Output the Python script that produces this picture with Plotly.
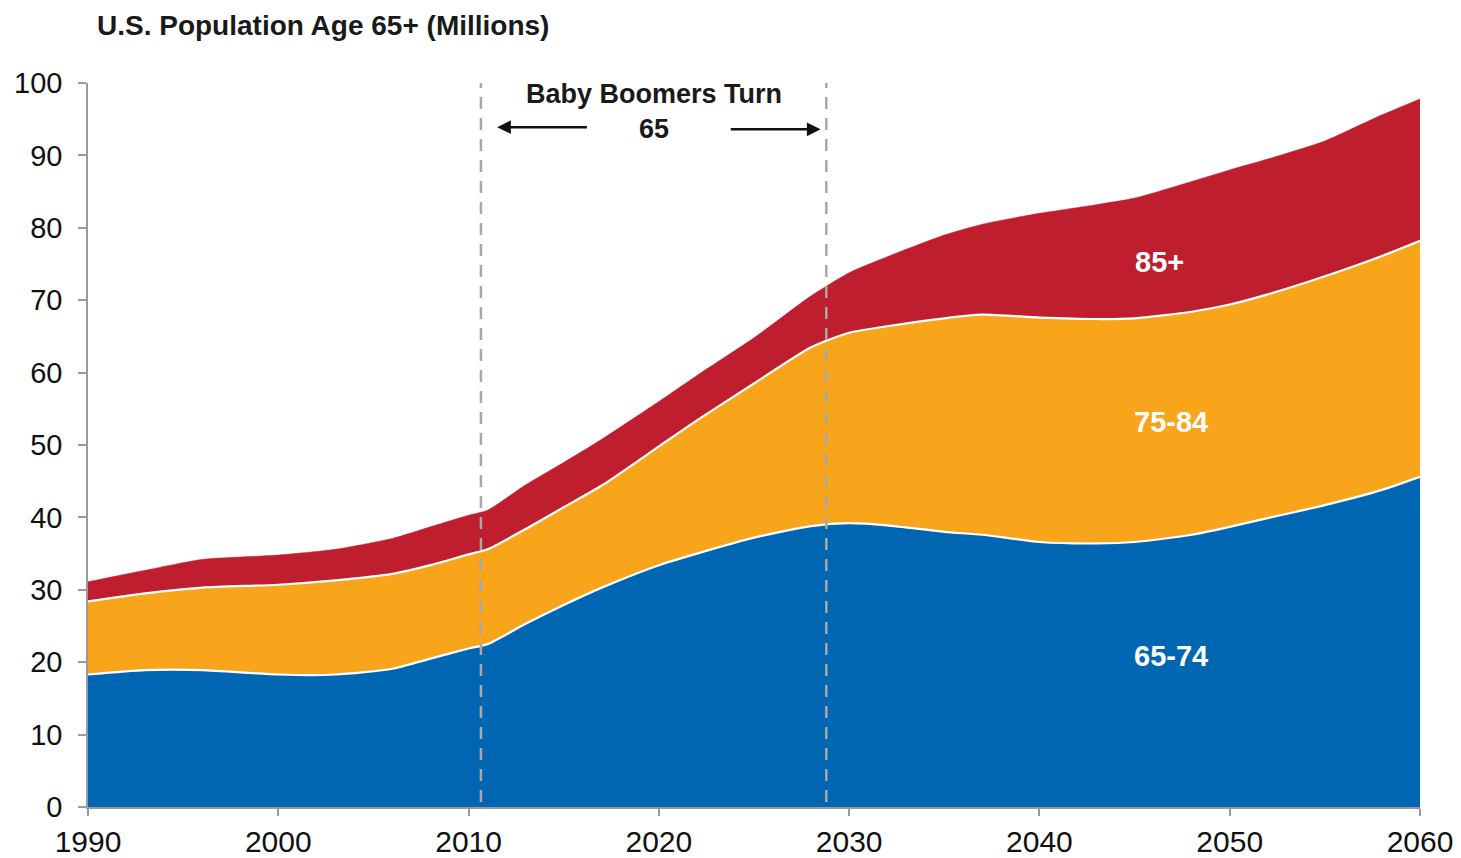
import plotly.graph_objects as go

# ---- data (millions) ----
years = [1990, 1993, 1996, 2000, 2003, 2006, 2008, 2010, 2011, 2013, 2015, 2017,
         2020, 2022, 2025, 2028, 2030, 2032, 2035, 2037, 2040, 2043, 2045, 2048,
         2050, 2052, 2055, 2058, 2060]
age_65_74 = [18.3, 18.9, 18.9, 18.3, 18.3, 19.1, 20.5, 21.9, 22.5, 25.3, 27.9, 30.3,
             33.4, 35.0, 37.2, 38.8, 39.2, 38.9, 38.0, 37.6, 36.6, 36.4, 36.6, 37.6,
             38.7, 39.9, 41.7, 43.8, 45.6]
age_75_84 = [10.1, 10.6, 11.4, 12.4, 13.0, 13.1, 12.9, 13.0, 13.1, 13.1, 13.5, 14.1,
             16.4, 18.4, 21.3, 24.7, 26.3, 27.5, 29.5, 30.4, 31.0, 31.0, 30.9, 30.8,
             30.7, 30.9, 31.6, 32.3, 32.6]
age_85_plus = [2.7, 3.2, 3.9, 4.1, 4.3, 4.9, 5.3, 5.4, 5.4, 6.1, 6.2, 6.4,
               6.2, 6.2, 6.3, 7.1, 8.3, 9.6, 11.5, 12.5, 14.4, 15.8, 16.6, 18.0,
               18.6, 18.7, 18.7, 19.5, 19.6]

x_ticks = [1990, 2000, 2010, 2020, 2030, 2040, 2050, 2060]
y_ticks = [0, 10, 20, 30, 40, 50, 60, 70, 80, 90, 100]
boomer_start = 2010.65
boomer_end = 2028.8

BLUE = "#0066B2"
ORANGE = "#F8A51B"
RED = "#BE1E2D"
FONT = "Liberation Sans"

fig = go.Figure()
fig.add_trace(go.Scatter(x=years, y=age_65_74, stackgroup="one", mode="lines",
                         line=dict(color="white", width=2.2, shape="spline", smoothing=0.6),
                         fillcolor=BLUE, name="65-74"))
fig.add_trace(go.Scatter(x=years, y=age_75_84, stackgroup="one", mode="lines",
                         line=dict(color="white", width=2.2, shape="spline", smoothing=0.6),
                         fillcolor=ORANGE, name="75-84"))
fig.add_trace(go.Scatter(x=years, y=age_85_plus, stackgroup="one", mode="lines",
                         line=dict(color=RED, width=0.5, shape="spline", smoothing=0.6),
                         fillcolor=RED, name="85+"))

# dashed boomer lines
for xv in (boomer_start, boomer_end):
    fig.add_shape(type="line", x0=xv, x1=xv, y0=0.7, y1=102.5, xref="x", yref="y",
                  line=dict(color="#A8A8A8", width=2.5, dash="12px,9px"), layer="above")

# annotation text
fig.add_annotation(x=(boomer_start + boomer_end) / 2, y=98.5, xref="x", yref="y",
                   text="<b>Baby Boomers Turn</b>", showarrow=False,
                   font=dict(family=FONT, size=27, color="#1a1a1a"))
fig.add_annotation(x=(boomer_start + boomer_end) / 2, y=93.7, xref="x", yref="y",
                   text="<b>65</b>", showarrow=False,
                   font=dict(family=FONT, size=27, color="#1a1a1a"))
# arrows
fig.add_annotation(x=2011.5, y=93.9, ax=2016.3, ay=93.9, xref="x", yref="y",
                   axref="x", ayref="y", text="", showarrow=True,
                   arrowhead=2, arrowsize=1.1, arrowwidth=2.5, arrowcolor="#111")
fig.add_annotation(x=2028.5, y=93.6, ax=2023.7, ay=93.6, xref="x", yref="y",
                   axref="x", ayref="y", text="", showarrow=True,
                   arrowhead=2, arrowsize=1.1, arrowwidth=2.5, arrowcolor="#111")

# series labels
for txt, xv, yv in [("85+", 2046.3, 75.3), ("75-84", 2046.9, 53.2), ("65-74", 2046.9, 20.9)]:
    fig.add_annotation(x=xv, y=yv, xref="x", yref="y", text=f"<b>{txt}</b>",
                       showarrow=False, font=dict(family=FONT, size=29, color="white"))

# title
fig.add_annotation(x=0.005, y=1.08, xref="paper", yref="paper", xanchor="left",
                   yanchor="middle", text="<b>U.S. Population Age 65+ (Millions)</b>",
                   showarrow=False, font=dict(family=FONT, size=28, color="#1a1a1a"))

fig.update_layout(
    width=1461, height=858,
    margin=dict(l=88, r=41, t=83, b=51, autoexpand=False),
    paper_bgcolor="white", plot_bgcolor="white",
    showlegend=False,
    font=dict(family=FONT, color="#111"),
)
fig.update_xaxes(range=[1990, 2060], tickvals=x_ticks, showgrid=False, zeroline=False,
                 showline=True, linecolor="#9a9a9a", linewidth=1.5, automargin=False,
                 ticks="outside", ticklen=7, tickcolor="#9a9a9a", tickwidth=1.5,
                 tickfont=dict(family=FONT, size=30, color="#111"))
fig.update_yaxes(range=[0, 100], tickvals=y_ticks, showgrid=False, zeroline=False,
                 showline=True, linecolor="#9a9a9a", linewidth=1.5, automargin=False,
                 ticks="outside", ticklen=8, tickcolor="#9a9a9a", tickwidth=1.5,
                 tickfont=dict(family=FONT, size=29, color="#111"),
                 ticklabelstandoff=10)

fig.write_html("out.html")
